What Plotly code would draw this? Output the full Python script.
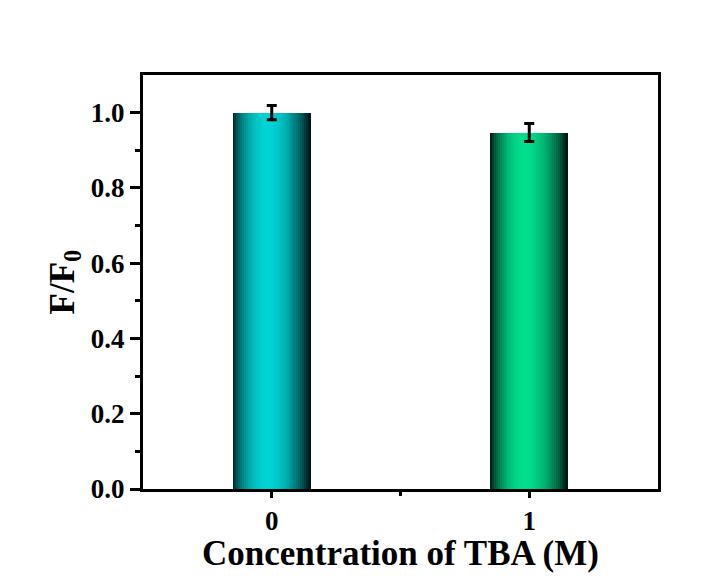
import numpy as np
import plotly.graph_objects as go

categories = [0, 1]
tick_labels = ["0", "1"]
values = [1.0, 0.947]
errors = [0.019, 0.024]
peak_colors = [(0, 212, 212), (0, 222, 140)]
x_title = "Concentration of TBA (M)"
y_title = "F/F<sub>0</sub>"

bar_width = 0.3
n_slices = 40

fig = go.Figure()

for cat, val, (r, g, b) in zip(categories, values, peak_colors):
    xs, ws, cols = [], [], []
    sw = bar_width / n_slices
    for i in range(n_slices):
        t = (i + 0.5) / n_slices
        f = np.sin(np.pi * t ** 0.87) ** 0.75
        f = max(f, 0.06)
        xs.append(cat - bar_width / 2 + t * bar_width)
        ws.append(sw * 1.6)
        cols.append(f"rgb({int(r*f)},{int(g*f + 8*(1-f))},{int(b*f + 8*(1-f))})")
    fig.add_trace(go.Bar(
        x=xs, y=[val] * n_slices, width=ws,
        marker=dict(color=cols, line=dict(width=0)),
        showlegend=False, hoverinfo="skip",
    ))

fig.add_trace(go.Scatter(
    x=categories, y=values, mode="markers",
    marker=dict(size=1, color="rgba(0,0,0,0)"),
    error_y=dict(type="data", array=errors, visible=True,
                 color="black", thickness=3, width=5),
    showlegend=False, hoverinfo="skip",
))

font_family = "Liberation Serif, Times New Roman, serif"

fig.update_layout(
    width=721, height=576,
    margin=dict(l=143, r=63, t=75, b=87),
    paper_bgcolor="white", plot_bgcolor="white",
    barmode="overlay", bargap=0,
    font=dict(family=font_family, color="black"),
    xaxis=dict(
        range=[-0.5, 1.5],
        tickmode="array", tickvals=categories, ticktext=tick_labels,
        ticks="outside", ticklen=6, tickwidth=3, tickcolor="black",
        minor=dict(tickmode="array", tickvals=[0.5], ticks="outside", ticklen=4, tickwidth=3, tickcolor="black"),
        showline=True, linewidth=3, linecolor="black", mirror=True,
        showgrid=False, zeroline=False,
        tickfont=dict(size=27, family=font_family, color="black", weight="bold"),
    ),
    yaxis=dict(
        range=[0, 1.1],
        tickmode="array", tickvals=[0, 0.2, 0.4, 0.6, 0.8, 1.0],
        ticktext=["0.0", "0.2", "0.4", "0.6", "0.8", "1.0"],
        ticks="outside", ticklen=10, tickwidth=3, tickcolor="black",
        minor=dict(tickmode="array", tickvals=[0.1, 0.3, 0.5, 0.7, 0.9], ticks="outside", ticklen=5, tickwidth=3, tickcolor="black"),
        showline=True, linewidth=3, linecolor="black", mirror=True,
        showgrid=False, zeroline=False,
        tickfont=dict(size=27, family=font_family, color="black", weight="bold"),
        title=dict(text="<b>" + y_title + "</b>", font=dict(size=35, family=font_family), standoff=6),
    ),
    annotations=[dict(
        text="<b>" + x_title + "</b>", xref="paper", yref="paper",
        x=0.5, y=-0.155, xanchor="center", yanchor="middle", showarrow=False,
        font=dict(size=35, family=font_family, color="black"),
    )],
)

fig.write_html("out.html")
